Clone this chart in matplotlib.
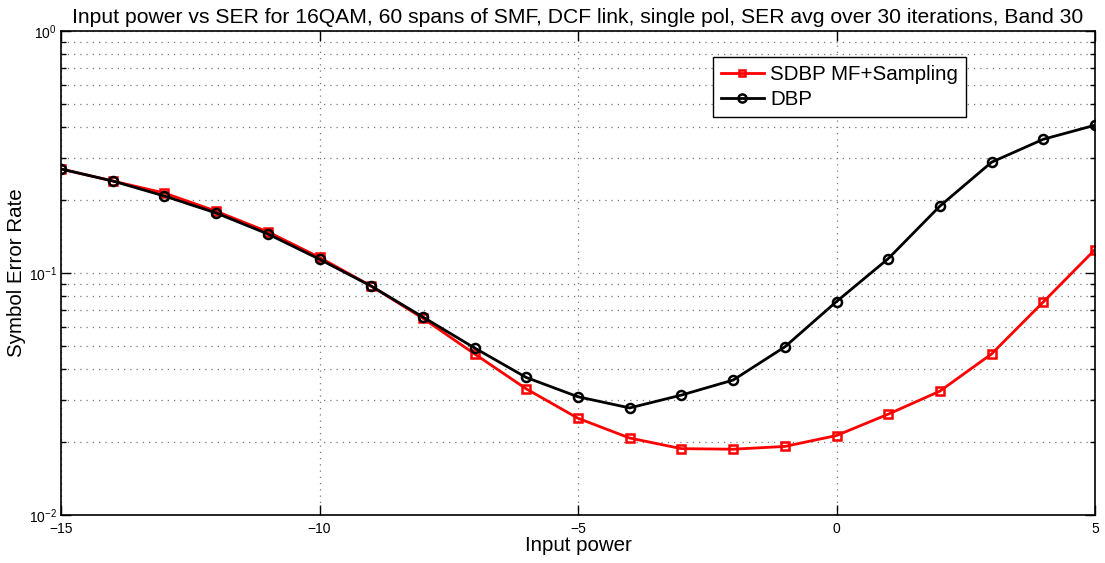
import numpy as np
import matplotlib.pyplot as plt
from matplotlib.ticker import LogLocator, NullFormatter

plt.rcParams['font.family'] = ['Liberation Sans', 'DejaVu Sans']

power = [-15, -14, -13, -12, -11, -10, -9, -8, -7, -6, -5, -4, -3, -2, -1, 0, 1, 2, 3, 4, 5]
ser_sdbp = [0.269, 0.240, 0.214, 0.180, 0.148, 0.116, 0.0883, 0.065, 0.0463, 0.0332, 0.0251,
            0.0208, 0.0188, 0.0187, 0.0192, 0.0213, 0.0261, 0.0325, 0.0463, 0.0759, 0.125]
ser_dbp = [0.269, 0.240, 0.208, 0.177, 0.145, 0.114, 0.0883, 0.0658, 0.0490, 0.0370, 0.0308,
           0.0277, 0.0313, 0.0361, 0.0495, 0.0762, 0.1146, 0.189, 0.287, 0.357, 0.408]

fig = plt.figure(figsize=(11.05, 5.63), dpi=100)
ax = fig.add_axes([61/1105, 48/563, 1034/1105, 484/563])

ax.semilogy(power, ser_sdbp, color='red', lw=2, marker='s', ms=5.5, mfc='none',
            mec='red', mew=1.8, label='SDBP MF+Sampling')
ax.semilogy(power, ser_dbp, color='black', lw=2, marker='o', ms=6.5, mfc='none',
            mec='black', mew=1.8, label='DBP')

ax.set_xlim(-15, 5)
ax.set_ylim(1e-2, 1)
ax.set_xticks([-15, -10, -5, 0, 5])
ax.set_xticklabels(['\u221215', '\u221210', '\u22125', '0', '5'])
ax.yaxis.set_major_locator(LogLocator(base=10, numticks=5))
ax.yaxis.set_minor_locator(LogLocator(base=10, subs=np.arange(2, 10), numticks=20))
ax.yaxis.set_minor_formatter(NullFormatter())

ax.grid(True, which='major', ls=(0, (1, 4)), color='#777777', lw=0.9)
ax.grid(True, which='minor', axis='y', ls=(0, (1, 4)), color='#777777', lw=0.9)
ax.tick_params(which='both', direction='in', top=True, right=True, labelsize=10)
ax.tick_params(axis='x', pad=5)
ax.tick_params(axis='y', pad=3)
ax.tick_params(which='major', length=7, width=1)
ax.tick_params(which='minor', length=3.5, width=1)
for s in ax.spines.values():
    s.set_linewidth(1.2)

ax.set_xlabel('Input power', fontsize=14.8, labelpad=0)
ax.set_ylabel('Symbol Error Rate', fontsize=14.8, labelpad=2)
ax.set_title('Input power vs SER for 16QAM, 60 spans of SMF, DCF link, single pol, '
             'SER avg over 30 iterations, Band 30', fontsize=15.2, pad=6)

leg = ax.legend(loc='upper left', bbox_to_anchor=(652/1034, 1 - 26/484), fontsize=14.8,
                frameon=True, fancybox=False, framealpha=1, edgecolor='black',
                handlelength=2.1, borderpad=0.38, labelspacing=0.3, handletextpad=0.3,
                borderaxespad=0, markerscale=0.9)
leg.get_frame().set_linewidth(1)

fig.savefig('out.png', dpi=100)
